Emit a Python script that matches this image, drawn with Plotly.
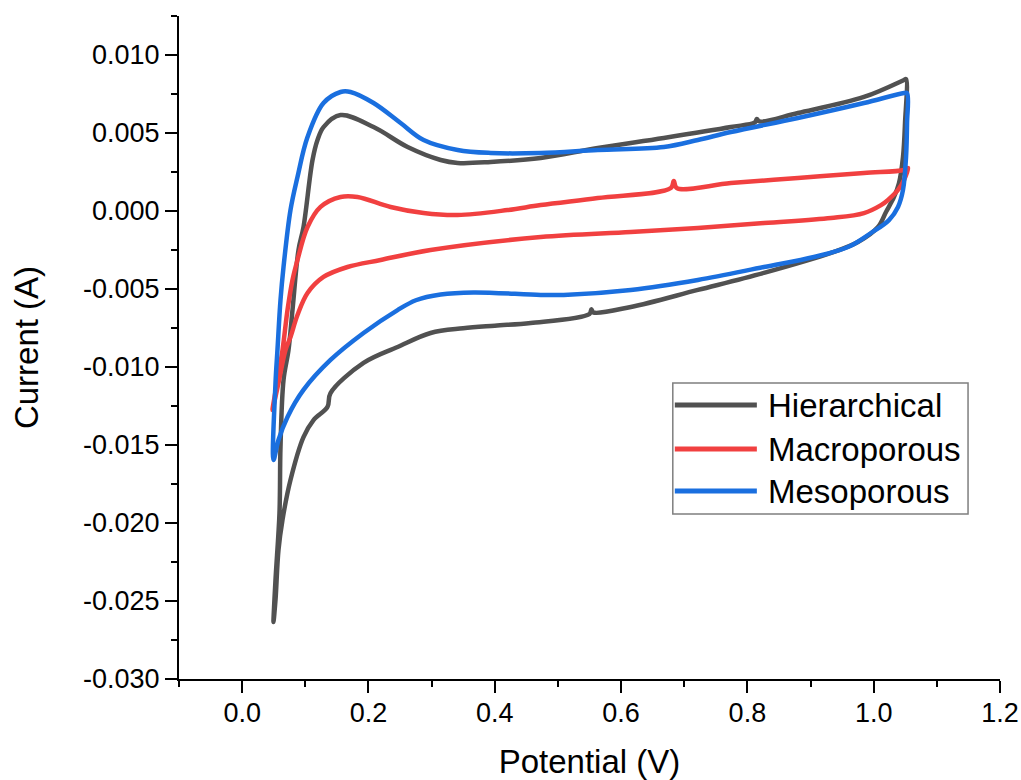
import plotly.graph_objects as go

# ---------------- data ----------------
hier_v = [0.0496, 0.0528, 0.0591, 0.0607, 0.0655, 0.0734, 0.0797, 0.0892, 0.0971, 0.1114, 0.1193,
          0.1288, 0.1558, 0.2081, 0.2620, 0.3143, 0.3412, 0.3935, 0.4727, 0.5631, 0.6677, 0.7738,
          0.8120, 0.8150, 0.8190, 0.8800, 0.9846, 1.0480, 1.0512,
          1.0496, 1.0464, 1.0401, 1.0322, 1.0195, 1.0068, 0.9751, 0.9324, 0.8262, 0.7216, 0.6154,
          0.5560, 0.5530, 0.5500, 0.4569, 0.4000, 0.3500, 0.2984, 0.2461, 0.1922, 0.1399, 0.1351,
          0.1130, 0.0971, 0.0765, 0.0638, 0.0575, 0.0528, 0.0496]
hier_i = [-0.02635, -0.02365, -0.01936, -0.01513, -0.01083, -0.00891, -0.00635, -0.00250, -0.00103,
          0.00327, 0.00455, 0.00538, 0.00615, 0.00538, 0.00410, 0.00327, 0.00308, 0.00314, 0.00340,
          0.00404, 0.00468, 0.00538, 0.00568, 0.00590, 0.00574, 0.00628, 0.00731, 0.00840, 0.00846,
          0.00564, 0.00346, 0.00179, 0.00090, -0.00006, -0.00103, -0.00199, -0.00269, -0.00397,
          -0.00506, -0.00615, -0.00650, -0.00630, -0.00660, -0.00718, -0.00735, -0.00752, -0.00782,
          -0.00872, -0.00974, -0.01167, -0.01256, -0.01340, -0.01449, -0.01724, -0.01981, -0.02173,
          -0.02493, -0.02635]

macro_v = [0.0480, 0.0559, 0.0639, 0.0718, 0.0797, 0.0876, 0.1035, 0.1241, 0.1558, 0.1827, 0.2350,
           0.2873, 0.3412, 0.4204, 0.4727, 0.5631, 0.6788, 0.6835, 0.6883, 0.7738, 0.8800, 0.9846,
           1.0480, 1.0544,
           1.0480, 1.0385, 1.0227, 1.0116, 0.9846, 0.9324, 0.8262, 0.7216, 0.6154, 0.4727, 0.2984,
           0.2192, 0.1669, 0.1288, 0.1035, 0.0876, 0.0765, 0.0686, 0.0575, 0.0480]
macro_i = [-0.01276, -0.01083, -0.00891, -0.00635, -0.00442, -0.00314, -0.00103, 0.00026, 0.00090,
           0.00090, 0.00026, -0.00013, -0.00026, 0.00006, 0.00038, 0.00083, 0.00147, 0.00192,
           0.00147, 0.00179, 0.00212, 0.00244, 0.00263, 0.00276,
           0.00199, 0.00135, 0.00071, 0.00038, -0.00013, -0.00045, -0.00077, -0.00109, -0.00135,
           -0.00167, -0.00250, -0.00314, -0.00359, -0.00423, -0.00526, -0.00667, -0.00808, -0.00891,
           -0.01103, -0.01276]

meso_v = [0.0496, 0.0528, 0.0559, 0.0607, 0.0655, 0.0765, 0.0876, 0.1035, 0.1288, 0.1558, 0.1716,
          0.2081, 0.2509, 0.2873, 0.3412, 0.3935, 0.4727, 0.5631, 0.6677, 0.7216, 0.7738, 0.8800,
          0.9846, 1.0480, 1.0528,
          1.0528, 1.0512, 1.0464, 1.0385, 1.0242, 0.9957, 0.9593, 0.9054, 0.8262, 0.7216, 0.6154,
          0.5092, 0.4727, 0.3665, 0.3143, 0.2750, 0.2461, 0.1922, 0.1399, 0.0971, 0.0718, 0.0575,
          0.0496]
meso_i = [-0.01596, -0.01103, -0.00891, -0.00571, -0.00359, 0.00006, 0.00218, 0.00474, 0.00692,
          0.00763, 0.00763, 0.00692, 0.00564, 0.00455, 0.00391, 0.00372, 0.00372, 0.00391, 0.00410,
          0.00455, 0.00506, 0.00596, 0.00692, 0.00756, 0.00756,
          0.00564, 0.00346, 0.00135, 0.00026, -0.00058, -0.00141, -0.00231, -0.00295, -0.00359,
          -0.00442, -0.00506, -0.00538, -0.00538, -0.00522, -0.00535, -0.00572, -0.00635, -0.00782,
          -0.00955, -0.01147, -0.01320, -0.01468, -0.01596]

series_names = ["Hierarchical", "Macroporous", "Mesoporous"]
series_colors = ["#515151", "#F14040", "#1A6FDF"]

x_tickvals = [0.0, 0.2, 0.4, 0.6, 0.8, 1.0, 1.2]
x_ticktext = ["0.0", "0.2", "0.4", "0.6", "0.8", "1.0", "1.2"]
x_minor = [-0.1, 0.1, 0.3, 0.5, 0.7, 0.9, 1.1]
y_tickvals = [-0.030, -0.025, -0.020, -0.015, -0.010, -0.005, 0.000, 0.005, 0.010]
y_ticktext = ["-0.030", "-0.025", "-0.020", "-0.015", "-0.010", "-0.005", "0.000", "0.005", "0.010"]
y_minor = [-0.0275, -0.0225, -0.0175, -0.0125, -0.0075, -0.0025, 0.0025, 0.0075, 0.0125]

# ---------------- figure ----------------
FONT = "Liberation Sans, Arial, sans-serif"
fig = go.Figure()
for name, v, i, c in zip(series_names, [hier_v, macro_v, meso_v], [hier_i, macro_i, meso_i], series_colors):
    fig.add_trace(go.Scatter(x=v, y=i, mode="lines", name=name, showlegend=False,
                             line=dict(color=c, width=4.5, shape="spline", smoothing=1.0)))

fig.update_layout(
    width=1021, height=780,
    margin=dict(l=179, r=21, t=16, b=101),
    paper_bgcolor="white", plot_bgcolor="white",
    font=dict(family=FONT, color="black"),
    showlegend=False,
)
fig.update_xaxes(
    range=[-0.1, 1.2], tickmode="array", tickvals=x_tickvals, ticktext=x_ticktext,
    ticks="outside", ticklen=12, tickwidth=2, tickcolor="black",
    minor=dict(tickmode="array", tickvals=x_minor, ticks="outside", ticklen=6, tickwidth=2, tickcolor="black"),
    showline=True, linewidth=2, linecolor="black", showgrid=False, zeroline=False,
    tickfont=dict(size=27, family=FONT), automargin=False, ticklabelstandoff=-3,
    title=dict(text="Potential (V)", font=dict(size=33, family=FONT), standoff=22),
)
fig.update_yaxes(
    range=[-0.030, 0.0125], tickmode="array", tickvals=y_tickvals, ticktext=y_ticktext,
    ticks="outside", ticklen=12, tickwidth=2, tickcolor="black",
    minor=dict(tickmode="array", tickvals=y_minor, ticks="outside", ticklen=6, tickwidth=2, tickcolor="black"),
    showline=True, linewidth=2, linecolor="black", showgrid=False, zeroline=False,
    tickfont=dict(size=27, family=FONT), automargin=False,
    title=dict(text="Current (A)", font=dict(size=33, family=FONT), standoff=34),
)

# ---------------- legend (drawn manually to match long line samples) ----------------
leg_x0, leg_x1 = 0.6819, 1.1494
leg_y0, leg_y1 = -0.01942, -0.01103
row_y = [-0.01244, -0.01526, -0.01795]
fig.add_shape(type="rect", xref="x", yref="y", x0=leg_x0, x1=leg_x1, y0=leg_y0, y1=leg_y1,
              line=dict(color="#7f7f7f", width=1.5), fillcolor="white")
for name, c, yy in zip(series_names, series_colors, row_y):
    fig.add_shape(type="line", xref="x", yref="y", x0=0.6851, x1=0.8150, y0=yy, y1=yy,
                  line=dict(color=c, width=5))
    fig.add_annotation(x=0.829, y=yy, xref="x", yref="y", text=name, showarrow=False,
                       xanchor="left", yanchor="middle", font=dict(size=33, family=FONT, color="black"))

fig.write_html("out.html")
